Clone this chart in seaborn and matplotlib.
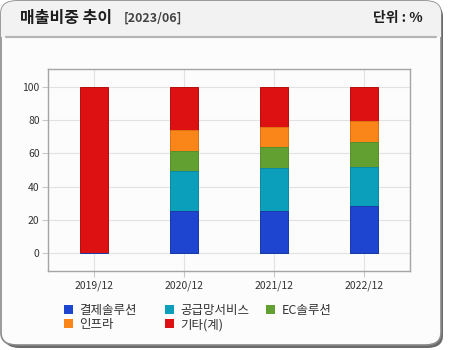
import matplotlib
matplotlib.use("Agg")
import matplotlib.pyplot as plt
from matplotlib.patches import FancyBboxPatch, Rectangle, Patch
import seaborn as sns
import pandas as pd
import numpy as np

years = ["2019/12", "2020/12", "2021/12", "2022/12"]
segments = ["결제솔루션", "공급망서비스", "EC솔루션", "인프라", "기타(계)"]
payment = [0.0, 25.4, 25.4, 28.4]
supply = [0.0, 24.0, 25.8, 23.4]
ec = [0.0, 12.2, 12.8, 15.2]
infra = [0.0, 12.2, 12.0, 12.4]
others = [100.0, 26.2, 24.0, 20.6]
colors = ["#1d45cf", "#0b9fbb", "#62a032", "#fa8619", "#dd1111"]
edges = ["#1a3aa8", "#0a8aa2", "#55902a", "#e07410", "#b50d0d"]
yticks = [0, 20, 40, 60, 80, 100]

sns.set_theme(style="whitegrid")
plt.rcParams["font.family"] = ["Noto Sans CJK KR", "DejaVu Sans"]

fig = plt.figure(figsize=(4.5, 3.5), dpi=100)
fig.patch.set_facecolor("white")

W, H = 450.0, 350.0
def fx(x): return x / W
def fy(y): return 1 - y / H

# outer frame with shadow
shadow = FancyBboxPatch((fx(4), fy(348)), fx(443) - fx(4), fy(4) - fy(348),
                        boxstyle="round,pad=0,rounding_size=0.035",
                        transform=fig.transFigure, facecolor="#6a6a6a",
                        edgecolor="none", zorder=-3)
fig.add_artist(shadow)
frame = FancyBboxPatch((fx(1), fy(345)), fx(441) - fx(1), fy(1) - fy(345),
                       boxstyle="round,pad=0,rounding_size=0.035",
                       transform=fig.transFigure, facecolor="#fdfcfd",
                       edgecolor="#8a8a8a", linewidth=1.2, zorder=-2)
fig.add_artist(frame)
header = Rectangle((fx(1), fy(37)), fx(441) - fx(1), fy(0) - fy(37),
                   transform=fig.transFigure, facecolor="#f3f2f3",
                   edgecolor="none", zorder=-1)
fig.add_artist(header)
header.set_clip_path(frame)
fig.add_artist(plt.Line2D([fx(6), fx(436)], [fy(37), fy(37)],
                          transform=fig.transFigure, color="#b5b5b5",
                          linewidth=1.6, zorder=-0.5))

fig.text(fx(20), fy(18), "매출비중 추이", fontsize=11.5, fontweight="bold",
         color="#1e1e1e", va="center", ha="left")
fig.text(fx(124), fy(18), "[2023/06]", fontsize=9, fontweight="bold",
         color="#444444", va="center", ha="left")
fig.text(fx(423), fy(18), "단위 : %", fontsize=10, fontweight="bold",
         color="#1e1e1e", va="center", ha="right")

ax = fig.add_axes([fx(48), fy(271), fx(410) - fx(48), fy(69) - fy(271)])
ax.set_zorder(1)
ax.set_facecolor("#fdfcfd")

df = pd.DataFrame({"year": years, "결제솔루션": payment, "공급망서비스": supply,
                   "EC솔루션": ec, "인프라": infra, "기타(계)": others})
cum = df[segments].cumsum(axis=1)
for seg, col, ec_ in zip(segments[::-1], colors[::-1], edges[::-1]):
    sns.barplot(x=df["year"], y=cum[seg], color=col, width=0.31, ax=ax,
                saturation=1, edgecolor=ec_, linewidth=0.7, zorder=3)

ax.set_xlim(-0.51, 3.51)
ax.set_ylim(-10.6, 110.6)
ax.set_yticks(yticks)
ax.set_xlabel("")
ax.set_ylabel("")
ax.grid(True, color="#e2e2e2", linewidth=0.8)
ax.set_axisbelow(True)
for s in ax.spines.values():
    s.set_color("#a5a5a5")
    s.set_linewidth(1.0)
ax.tick_params(axis="both", labelsize=7.5, colors="#333333", length=4,
               width=0.8, color="#c8c8c8", pad=2, bottom=True, left=True)
ax.tick_params(axis="x", pad=3)

handles = [Patch(facecolor=c, edgecolor="none") for c in colors]
columns = [([0, 3], 64), ([1, 4], 165), ([2], 266)]
for idx, x0 in columns:
    leg = fig.legend([handles[i] for i in idx], [segments[i] for i in idx],
                     ncol=1, loc="upper left", bbox_to_anchor=(fx(x0), fy(304)),
                     frameon=False, fontsize=9, handlelength=0.75,
                     handleheight=0.75, handletextpad=0.5, labelspacing=0.1,
                     borderaxespad=0, borderpad=0)
    for t in leg.get_texts():
        t.set_color("#333333")
    leg.set_zorder(5)

fig.savefig("out.png", dpi=100, facecolor="white")
